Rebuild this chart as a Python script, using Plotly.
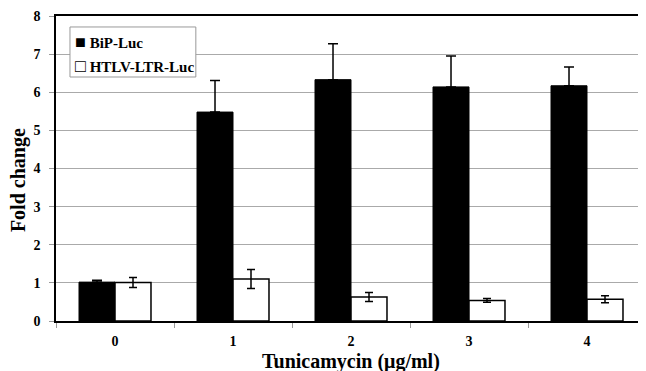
import plotly.graph_objects as go

categories = ["0", "1", "2", "3", "4"]
bip_values = [1.02, 5.48, 6.33, 6.14, 6.17]
bip_err = [0.05, 0.83, 0.94, 0.81, 0.49]
htlv_values = [1.01, 1.10, 0.63, 0.54, 0.57]
htlv_err = [0.13, 0.25, 0.12, 0.05, 0.09]
y_ticks = [0, 1, 2, 3, 4, 5, 6, 7, 8]
legend_labels = ["BiP-Luc", "HTLV-LTR-Luc"]
x_title = "Tunicamycin (μg/ml)"
y_title = "Fold change"

FONT = "Liberation Serif"

fig = go.Figure()
fig.add_trace(go.Bar(
    x=categories, y=bip_values, name=legend_labels[0], showlegend=False,
    marker=dict(color="black", line=dict(color="black", width=1)),
    error_y=dict(type="data", array=bip_err, arrayminus=[0]*len(bip_err), symmetric=False,
                 color="black", thickness=1.5, width=5),
))
fig.add_trace(go.Bar(
    x=categories, y=htlv_values, name=legend_labels[1], showlegend=False,
    marker=dict(color="white", line=dict(color="black", width=1.5)),
    error_y=dict(type="data", array=htlv_err, symmetric=True,
                 color="black", thickness=1.5, width=4),
))

# legend box (drawn as text + frame)
fig.add_shape(type="rect", xref="paper", yref="paper",
              x0=0.0237, x1=0.237, y0=0.80, y1=0.964,
              line=dict(color="#999999", width=1), fillcolor="white", layer="above")
fig.add_annotation(xref="paper", yref="paper", x=0.028, y=0.915, xanchor="left", yanchor="middle",
                   text="<span style='font-size:18px'>■</span> <b>" + legend_labels[0] + "</b>",
                   showarrow=False, font=dict(family=FONT, size=15, color="black"))
fig.add_annotation(xref="paper", yref="paper", x=0.028, y=0.836, xanchor="left", yanchor="middle",
                   text="<span style='font-size:18px'>□</span> <b>" + legend_labels[1] + "</b>",
                   showarrow=False, font=dict(family=FONT, size=15, color="black"))

# axis titles
fig.add_annotation(xref="paper", yref="paper", x=-0.0644, y=0.462, xanchor="center", yanchor="middle",
                   text="<b>" + y_title + "</b>", textangle=-90, showarrow=False,
                   font=dict(family=FONT, size=20, color="black"))
fig.add_annotation(xref="paper", yref="paper", x=0.5, y=-0.134, xanchor="center", yanchor="middle",
                   text="<b>" + x_title + "</b>", showarrow=False,
                   font=dict(family=FONT, size=20, color="black"))

fig.update_layout(
    width=638, height=363,
    margin=dict(l=48, r=0, t=8, b=50),
    plot_bgcolor="white", paper_bgcolor="white",
    barmode="group", bargap=0.39, bargroupgap=0,
    font=dict(family=FONT, color="black", size=14),
    showlegend=False,
    xaxis=dict(
        tickfont=dict(family=FONT, size=14),
        tickprefix="<b>", ticksuffix="</b>",
        showline=True, linecolor="black", linewidth=1.5, mirror=True,
        ticks="outside", tickson="boundaries", ticklen=5, tickcolor="#999999",
        ticklabelstandoff=6,
        showgrid=False, automargin=False,
    ),
    yaxis=dict(
        range=[0, 8], tickvals=y_ticks,
        ticktext=[f"<b>{v}</b>" for v in y_ticks],
        tickfont=dict(family=FONT, size=14),
        showline=True, linecolor="black", linewidth=1.5,
        ticks="outside", ticklen=5, tickcolor="#999999",
        ticklabelstandoff=6,
        showgrid=True, gridcolor="#aaaaaa", gridwidth=1,
        zeroline=False, automargin=False,
    ),
)

fig.write_html("out.html")
